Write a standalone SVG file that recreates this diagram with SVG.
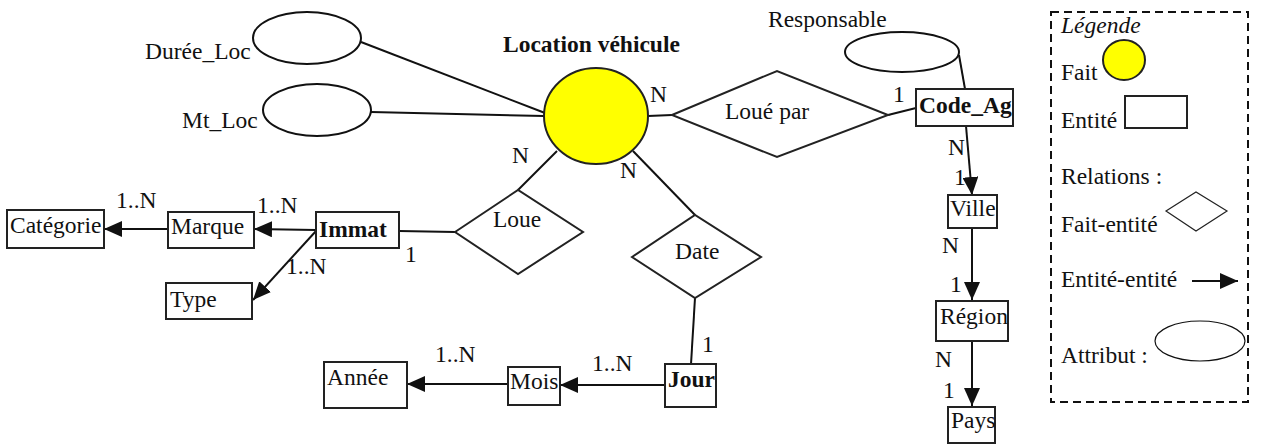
<svg xmlns="http://www.w3.org/2000/svg" width="1272" height="448" viewBox="0 0 1272 448">
<style>
text{font-family:'Liberation Serif',serif;font-size:23.5px;fill:#111}
.b{font-weight:bold}
.i{font-style:italic}
.ent{fill:#fff;stroke:#222;stroke-width:2}
.rel{fill:#fff;stroke:#222;stroke-width:2}
.att{fill:#fff;stroke:#111;stroke-width:2}
.fait{fill:#ffff00;stroke:#222;stroke-width:2}
.c{stroke:#111;stroke-width:2;fill:none}
.a{marker-end:url(#arr)}
.thin{stroke-width:1.2}
</style>
<defs>
<marker id="arr" markerUnits="userSpaceOnUse" markerWidth="18" markerHeight="16" refX="18" refY="8" orient="auto">
<path d="M0,0 L18,8 L0,16 z" fill="#111"/>
</marker>
</defs>
<g id="connectors">
<line class="c" x1="361" y1="42" x2="545" y2="113"/>
<line class="c" x1="371" y1="112" x2="544" y2="116"/>
<line class="c" x1="648" y1="116" x2="672" y2="115"/>
<line class="c" x1="888" y1="115" x2="916" y2="108"/>
<line class="c" x1="959" y1="55" x2="965" y2="89"/>
<line class="c" x1="557" y1="151" x2="518" y2="190"/>
<line class="c" x1="399" y1="231" x2="455" y2="232"/>
<line class="c" x1="633" y1="151" x2="695" y2="215"/>
<line class="c" x1="695" y1="298" x2="691" y2="364"/>
<line class="c a" x1="665" y1="385" x2="560" y2="385"/>
<line class="c a" x1="508" y1="384" x2="407" y2="384"/>
<line class="c a" x1="168" y1="229" x2="104" y2="229"/>
<line class="c a" x1="316" y1="230" x2="254" y2="229"/>
<line class="c a" x1="316" y1="231" x2="253" y2="300"/>
<line class="c a" x1="966" y1="126" x2="972" y2="195"/>
<line class="c a" x1="972" y1="228" x2="972" y2="300"/>
<line class="c a" x1="972" y1="341" x2="972" y2="406"/>
</g>
<g id="duree_loc"><ellipse class="att" cx="307" cy="38" rx="54" ry="26"/><text x="145" y="59">Durée_Loc</text></g>
<g id="mt_loc"><ellipse class="att" cx="317" cy="110" rx="54" ry="26"/><text x="182" y="128">Mt_Loc</text></g>
<g id="location"><ellipse class="fait" cx="596" cy="116" rx="52" ry="48"/><text class="b" x="503" y="52">Location véhicule</text></g>
<g id="loue_par"><polygon class="rel" points="672,115 777,71 888,115 777,157"/><text x="725" y="119">Loué par</text></g>
<g id="responsable"><ellipse class="att" cx="902" cy="52" rx="57" ry="20"/><text x="768" y="27">Responsable</text></g>
<g id="code_ag"><rect class="ent" x="916" y="89" width="97" height="37"/><text class="b" x="919" y="113">Code_Ag</text></g>
<g id="ville"><rect class="ent" x="948" y="195" width="49" height="33"/><text x="950" y="216">Ville</text></g>
<g id="region"><rect class="ent" x="936" y="301" width="72" height="40"/><text x="940" y="324">Région</text></g>
<g id="pays"><rect class="ent" x="948" y="407" width="47" height="36"/><text x="951" y="428">Pays</text></g>
<g id="loue"><polygon class="rel" points="455,232 518,190 583,232 518,274"/><text x="493" y="227">Loue</text></g>
<g id="date"><polygon class="rel" points="632,257 695,215 761,257 695,298"/><text x="675" y="259">Date</text></g>
<g id="immat"><rect class="ent" x="316" y="212" width="83" height="36"/><text class="b" x="319" y="237">Immat</text></g>
<g id="marque"><rect class="ent" x="168" y="212" width="86" height="36"/><text x="171" y="234">Marque</text></g>
<g id="categorie"><rect class="ent" x="7" y="210" width="97" height="38"/><text x="10" y="233">Catégorie</text></g>
<g id="type"><rect class="ent" x="166" y="283" width="86" height="36"/><text x="170" y="307">Type</text></g>
<g id="jour"><rect class="ent" x="665" y="364" width="51" height="43"/><text class="b" x="668" y="387">Jour</text></g>
<g id="mois"><rect class="ent" x="508" y="367" width="52" height="38"/><text x="510" y="389">Mois</text></g>
<g id="annee"><rect class="ent" x="324" y="362" width="83" height="46"/><text x="327" y="385">Année</text></g>
<g id="cardinalities">
<text x="650" y="102">N</text>
<text x="512" y="163">N</text>
<text x="620" y="178">N</text>
<text x="893" y="102">1</text>
<text x="116" y="208">1..N</text>
<text x="257" y="213">1..N</text>
<text x="286" y="274">1..N</text>
<text x="405" y="262">1</text>
<text x="702" y="352">1</text>
<text x="592" y="371">1..N</text>
<text x="435" y="362">1..N</text>
<text x="948" y="155">N</text>
<text x="954" y="185">1</text>
<text x="942" y="253">N</text>
<text x="950" y="292">1</text>
<text x="935" y="367">N</text>
<text x="943" y="398">1</text>
</g>
<g id="legende">
<rect x="1051" y="12" width="197" height="390" fill="none" stroke="#111" stroke-width="2" stroke-dasharray="8,5"/>
<text class="i" x="1061" y="33">Légende</text>
<text x="1061" y="80">Fait</text>
<ellipse class="fait" cx="1124" cy="60" rx="21" ry="20" stroke-width="1.5"/>
<text x="1061" y="128">Entité</text>
<rect class="ent" x="1125" y="96" width="62" height="32"/>
<text x="1061" y="184">Relations :</text>
<text x="1061" y="232">Fait-entité</text>
<polygon class="rel thin" points="1166,211 1196,192 1227,211 1196,231"/>
<text x="1061" y="287">Entité-entité</text>
<line class="c a" x1="1192" y1="281" x2="1238" y2="281"/>
<text x="1061" y="363">Attribut :</text>
<ellipse class="att thin" cx="1200" cy="341" rx="45" ry="20"/>
</g>
</svg>
